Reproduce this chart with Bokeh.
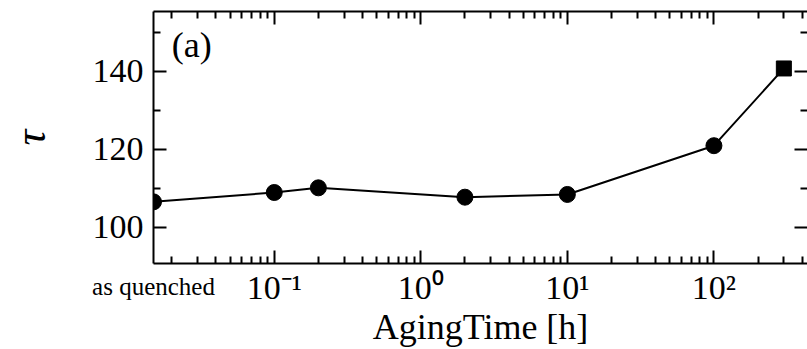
from bokeh.plotting import figure
from bokeh.models import (Range1d, FixedTicker, LogAxis, LinearAxis, Label,
                          CustomJSTickFormatter)
from bokeh.embed import file_html
from bokeh.resources import INLINE

# ---- data ----
aging_time = [0.015, 0.1, 0.2, 2, 10, 100, 300]      # first = "as quenched"
tau = [106.5, 108.9, 110.1, 107.7, 108.4, 120.9, 140.7]

x_major = [0.1, 1, 10, 100]
x_major_labels = ["10⁻¹", "10⁰", "10¹", "10²"]
x_minor = [0.02, 0.03, 0.04, 0.05, 0.06, 0.07, 0.08, 0.09,
           0.2, 0.3, 0.4, 0.5, 0.6, 0.7, 0.8, 0.9,
           2, 3, 4, 5, 6, 7, 8, 9,
           20, 30, 40, 50, 60, 70, 80, 90,
           200, 300, 400]
quench_tick = [0.015]
quench_label = ["as quenched"]
y_major = [100, 120, 140]
y_minor = [90, 110, 130, 150]

FONT = "Liberation Serif"

p = figure(width=807, height=349, x_axis_type="log",
           x_range=Range1d(0.015, 435), y_range=Range1d(90.7, 155.3),
           output_backend="svg", toolbar_location=None,
           min_border_left=153, min_border_right=0,
           min_border_top=11, min_border_bottom=82)
p.outline_line_color = None
p.grid.visible = False
p.background_fill_color = "white"
p.border_fill_color = "white"

def style(ax):
    ax.axis_line_color = "black"
    ax.axis_line_width = 2
    ax.major_tick_line_color = "black"
    ax.major_tick_line_width = 2
    ax.minor_tick_line_color = "black"
    ax.minor_tick_line_width = 2
    ax.major_tick_in = 13
    ax.major_tick_out = 0
    ax.minor_tick_in = 7
    ax.minor_tick_out = 0
    ax.major_label_text_color = "black"
    ax.axis_label_text_color = "black"
    ax.major_label_text_font = FONT
    ax.axis_label_text_font = FONT

xt = FixedTicker(ticks=x_major, minor_ticks=x_minor)
yt = FixedTicker(ticks=y_major, minor_ticks=y_minor)

# main bottom axis: ticks + decade labels
xa = p.xaxis[0]
xa.ticker = xt
style(xa)
xa.major_label_overrides = dict(zip(x_major, x_major_labels))
xa.major_label_text_font_size = "34px"
xa.major_label_standoff = 5

# second bottom axis: "as quenched" label + axis title
xq = LogAxis(ticker=FixedTicker(ticks=quench_tick, minor_ticks=[]))
style(xq)
xq.axis_line_color = None
xq.major_tick_line_color = None
xq.minor_tick_line_color = None
xq.major_label_overrides = dict(zip(quench_tick, quench_label))
xq.major_label_text_font_size = "25px"
xq.major_label_standoff = -36
xq.axis_label = "AgingTime [h]"
xq.axis_label_text_font_style = "normal"
xq.axis_label_text_font_size = "36px"
xq.axis_label_standoff = 4
p.add_layout(xq, "below")

ya = p.yaxis[0]
ya.ticker = yt
style(ya)
ya.major_label_text_font_size = "34px"
ya.major_label_standoff = 10
ya.axis_label = "τ"
ya.axis_label_text_font_style = "italic"
ya.axis_label_text_font_size = "44px"
ya.axis_label_standoff = 35

blank = CustomJSTickFormatter(code="return ''")
top = LogAxis(ticker=xt, formatter=blank, major_label_standoff=0)
style(top)
p.add_layout(top, "above")
right = LinearAxis(ticker=yt, formatter=blank, major_label_standoff=0)
style(right)
right.axis_line_color = None
p.add_layout(right, "right")

p.line(aging_time, tau, line_color="black", line_width=2)
p.scatter(aging_time[:-1], tau[:-1], marker="circle", size=16, color="black")
p.scatter(aging_time[-1:], tau[-1:], marker="square", size=15, color="black")

p.add_layout(Label(x=0.02, y=146.7, text="(a)", text_align="left",
                   text_font=FONT, text_font_size="36px",
                   text_baseline="alphabetic", text_color="black"))

open("out.html", "w").write(file_html(p, INLINE))
